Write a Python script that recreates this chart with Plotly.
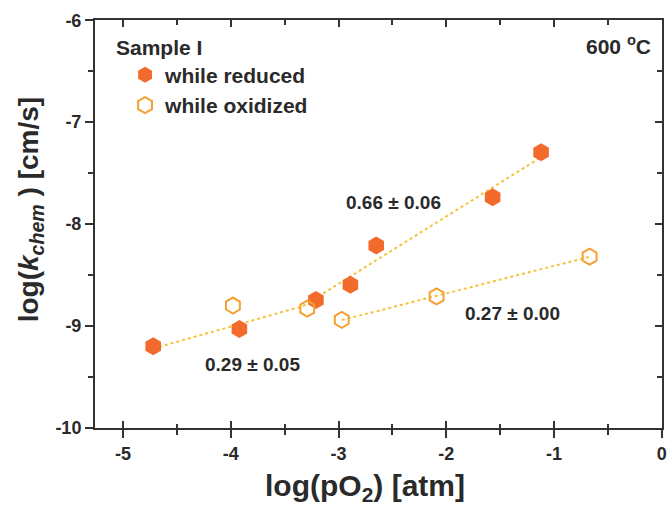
import numpy as np
import plotly.graph_objects as go

# data
red_x = [-4.72, -3.92, -3.21, -2.89, -2.65, -1.57, -1.12]
red_y = [-9.20, -9.03, -8.745, -8.595, -8.21, -7.737, -7.296]
ox_x = [-3.98, -3.29, -2.97, -2.09, -0.67]
ox_y = [-8.80, -8.83, -8.94, -8.71, -8.32]

# subsets used for the fits
low_idx = [0, 1, 2]
high_idx = [2, 3, 4, 5, 6]
ox_idx = [2, 3, 4]

x_ticks = [-5, -4, -3, -2, -1, 0]
x_ticktext = ["-5", "-4", "-3", "-2", "-1", "0"]
y_ticks = [-10, -9, -8, -7, -6]
y_ticktext = ["-10", "-9", "-8", "-7", "-6"]

labels = ["0.66 \u00b1 0.06", "0.27 \u00b1 0.00", "0.29 \u00b1 0.05"]

FONT = "Liberation Sans"
RED_C = "#f26b2c"
OX_C = "#f5a030"
LINE_C = "#f6c23a"
TXT = "#2a2a2a"
AX = "#333333"

def fit(xs, ys, idx):
    xx = np.array([xs[i] for i in idx])
    yy = np.array([ys[i] for i in idx])
    return np.polyfit(xx, yy, 1)

pa = fit(red_x, red_y, low_idx)
pc = fit(red_x, red_y, high_idx)
pb = fit(ox_x, ox_y, ox_idx)
x_int = (pc[1] - pa[1]) / (pa[0] - pc[0])

fig = go.Figure()

xa = np.array([red_x[low_idx[0]], x_int])
xc = np.array([x_int, red_x[high_idx[-1]]])
xb = np.array([ox_x[ox_idx[0]], ox_x[ox_idx[-1]]])
for xs, p in [(xa, pa), (xc, pc), (xb, pb)]:
    fig.add_trace(go.Scatter(x=xs, y=np.polyval(p, xs), mode="lines",
                             line=dict(color=LINE_C, width=2, dash="dot"),
                             showlegend=False, hoverinfo="skip"))

fig.add_trace(go.Scatter(x=red_x, y=red_y, mode="markers", name="while reduced",
                         marker=dict(symbol="hexagon", size=18, color=RED_C,
                                     line=dict(width=0))))
fig.add_trace(go.Scatter(x=ox_x, y=ox_y, mode="markers", name="while oxidized",
                         marker=dict(symbol="hexagon-open", size=16, color=OX_C,
                                     line=dict(width=2, color=OX_C))))
# invisible traces to create mirror / crossing-tick axes
fig.add_trace(go.Scatter(x=[None], y=[None], xaxis="x2", yaxis="y2",
                         showlegend=False, hoverinfo="skip"))
fig.add_trace(go.Scatter(x=[None], y=[None], xaxis="x3", yaxis="y",
                         showlegend=False, hoverinfo="skip"))

axis_common = dict(showgrid=False, zeroline=False, showline=True,
                   linecolor=AX, linewidth=2, tickcolor=AX, tickwidth=2)
tick_font = dict(size=18, weight="bold", family=FONT, color=TXT)
XR = [-5.26, 0.002]
YR = [-10.002, -5.998]

fig.update_layout(
    width=672, height=506,
    margin=dict(l=95, r=5, t=20, b=78),
    paper_bgcolor="white", plot_bgcolor="white",
    font=dict(family=FONT, color=TXT),
    xaxis=dict(range=XR, tickvals=x_ticks,
               ticktext=["<b>%s</b>" % t for t in x_ticktext],
               ticks="outside", ticklen=8,
               minor=dict(dtick=0.5, tick0=0, ticks="outside", ticklen=5,
                          tickcolor=AX, tickwidth=2),
               tickfont=tick_font, **axis_common),
    yaxis=dict(range=YR, tickvals=y_ticks,
               ticktext=["<b>%s</b>" % t for t in y_ticktext],
               ticks="outside", ticklen=8,
               minor=dict(dtick=0.5, tick0=0, ticks="outside", ticklen=5,
                          tickcolor=AX, tickwidth=2),
               tickfont=tick_font, **axis_common),
    xaxis2=dict(range=XR, overlaying="x", side="top", anchor="y",
                tickvals=x_ticks, ticks="inside", ticklen=7, showticklabels=False,
                minor=dict(dtick=0.5, tick0=0, ticks="inside", ticklen=5,
                           tickcolor=AX, tickwidth=2),
                **axis_common),
    xaxis3=dict(range=XR, overlaying="x", side="bottom", anchor="y",
                tickvals=x_ticks, ticks="inside", ticklen=7, showticklabels=False,
                minor=dict(dtick=0.5, tick0=0, ticks="inside", ticklen=4,
                           tickcolor=AX, tickwidth=2),
                **axis_common),
    yaxis2=dict(range=YR, overlaying="y", side="right", anchor="x",
                tickvals=y_ticks, ticks="inside", ticklen=7, showticklabels=False,
                minor=dict(dtick=0.5, tick0=0, ticks="inside", ticklen=5,
                           tickcolor=AX, tickwidth=2),
                **axis_common),
    legend=dict(x=0.053, y=0.915, xanchor="left", yanchor="top",
                bgcolor="rgba(0,0,0,0)",
                font=dict(size=21, weight="bold", family=FONT, color=TXT),
                itemsizing="trace", tracegroupgap=0),
    showlegend=True,
)

ann = [
    dict(x=-2.49, y=-7.79, text=labels[0]),
    dict(x=-1.39, y=-8.88, text=labels[1]),
    dict(x=-3.8, y=-9.38, text=labels[2]),
]
for a in ann:
    fig.add_annotation(x=a["x"], y=a["y"], text=a["text"], showarrow=False,
                       xref="x", yref="y",
                       font=dict(size=19, weight="bold", family=FONT, color=TXT))

fig.add_annotation(x=0.005, y=0.965, xref="paper", yref="paper", text="Sample I",
                   showarrow=False, xanchor="left", yanchor="top", xshift=16,
                   font=dict(size=21, weight="bold", family=FONT, color=TXT))
fig.add_annotation(x=0.985, y=0.975, xref="paper", yref="paper",
                   text="600 <sup>o</sup>C",
                   showarrow=False, xanchor="right", yanchor="top",
                   font=dict(size=21, weight="bold", family=FONT, color=TXT))

# axis titles as annotations
fig.add_annotation(x=0.477, y=-0.145, xref="paper", yref="paper",
                   text="log(pO<sub>2</sub>) [atm]", showarrow=False,
                   xanchor="center", yanchor="middle",
                   font=dict(size=30, weight="bold", family=FONT, color=TXT))
fig.add_annotation(x=-0.1136, y=0.535, xref="paper", yref="paper",
                   text="log(<i>k</i><sub><i>chem</i></sub> ) [cm/s]", showarrow=False,
                   textangle=-90, xanchor="center", yanchor="middle",
                   font=dict(size=28, weight="bold", family=FONT, color=TXT))

fig.write_html("out.html")
